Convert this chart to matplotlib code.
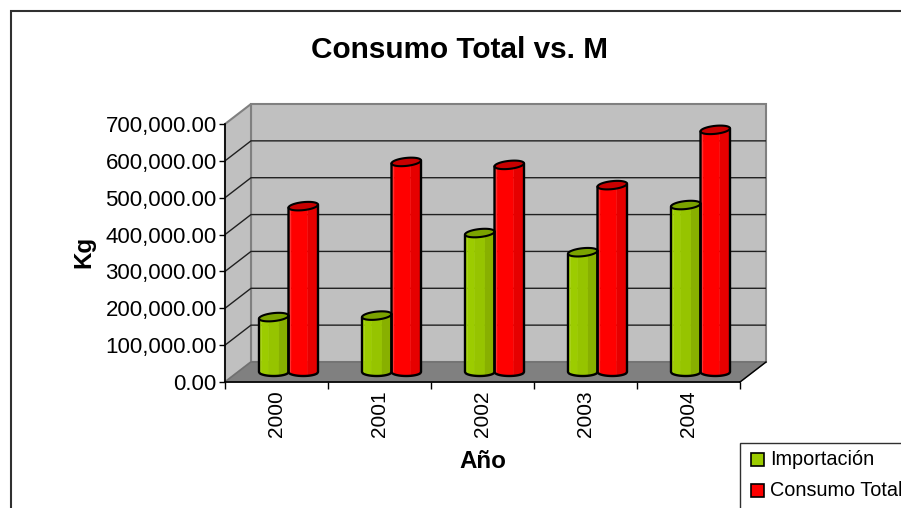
import numpy as np
import matplotlib
matplotlib.use('Agg')
import matplotlib.pyplot as plt
from matplotlib.patches import Polygon, Rectangle

plt.rcParams['font.family'] = ['Liberation Sans', 'DejaVu Sans']

years = ['2000', '2001', '2002', '2003', '2004']
importacion = [149000, 153000, 377000, 325000, 453000]
consumo_total = [450000, 570000, 562000, 507000, 657000]
y_ticks = [0, 100000, 200000, 300000, 400000, 500000, 600000, 700000]

W, H = 901, 508
# tamano del grafico en pixeles
left, right, bottom, top = 225, 766, 382, 104
px_x = 103.0               # pixeles por categoria
px_y = 258.0 / 700000      # pixeles por kg
depth_x = 26 / px_x
depth_y = 20 / px_y
bar_w = 29.5 / px_x
cap_h = 4.0 / px_y
cap_tilt = 1.5 / px_y

GREEN = [(0.08, '#a8d808'), (0.32, '#9ccc00'), (0.66, '#96c400'), (1.0, '#88b000')]
RED = [(0.07, '#ff3030'), (0.64, '#ff0000'), (0.95, '#e60000'), (1.0, '#f81010')]


def cylinder(ax, xc, base, value, shades, top_color):
    # cuerpo del cilindro por franjas verticales
    x0 = xc - bar_w / 2
    level = base + value
    start = 0.0
    for end, col in shades:
        u = np.linspace(start, end, 12)
        t = 2 * u - 1
        lower = base - cap_h * np.sqrt(1 - t ** 2)
        upper = level + cap_tilt * t
        ax.fill_between(x0 + u * bar_w, lower, upper, color=col, lw=0, zorder=4)
        start = end
    ang = np.linspace(0, 2 * np.pi, 60)
    xs = xc + bar_w / 2 * np.cos(ang)
    ys = level + cap_h * np.sin(ang) + cap_tilt * np.cos(ang)
    ax.add_patch(Polygon(np.column_stack([xs, ys]), closed=True, fc=top_color,
                         ec='black', lw=1.5, zorder=5))
    # contorno
    t = np.linspace(-1, 1, 40)
    ox = np.concatenate([[xc - bar_w / 2], xc + t * bar_w / 2, [xc + bar_w / 2]])
    oy = np.concatenate([[level - cap_tilt], base - cap_h * np.sqrt(1 - t ** 2), [level + cap_tilt]])
    ax.plot(ox, oy, color='black', lw=1.7, zorder=5, solid_capstyle='round')


fig = plt.figure(figsize=(W / 100, H / 100), dpi=100)
ax = fig.add_axes([left / W, 1 - bottom / H, (right - left) / W, (bottom - top) / H])
ax.set_xlim(0, (right - left) / px_x)
ax.set_ylim(0, (bottom - top) / px_y)
ax.patch.set_visible(False)

# paredes y piso
n = len(years)
vmax = y_ticks[-1]
wall = dict(fc='#c0c0c0', ec='#808080', lw=1.5, zorder=1)
ax.add_patch(Polygon([(depth_x, depth_y), (n + depth_x, depth_y), (n + depth_x, vmax + depth_y),
                      (depth_x, vmax + depth_y)], clip_on=False, **wall))
ax.add_patch(Polygon([(0, 0), (depth_x, depth_y), (depth_x, vmax + depth_y), (0, vmax)],
                     clip_on=False, **wall))
ax.add_patch(Polygon([(0, 0), (n, 0), (n + depth_x, depth_y), (depth_x, depth_y)],
                     fc='#808080', ec='#707070', lw=1, zorder=1, clip_on=False))
ax.plot([n, n + depth_x], [0, depth_y], color='black', lw=1, zorder=2, clip_on=False)

# lineas de division
for v in y_ticks[1:-1]:
    ax.plot([0, depth_x, n + depth_x], [v, v + depth_y, v + depth_y], color='#202020', lw=1, zorder=2)

for i in range(n):
    xc = i + 0.5 + depth_x / 2 - 1 / px_x
    base = depth_y / 2
    cylinder(ax, xc - bar_w / 2, base, importacion[i], GREEN, '#7ba300')
    cylinder(ax, xc + bar_w / 2, base, consumo_total[i], RED, '#c80000')

for s in ['top', 'right']:
    ax.spines[s].set_visible(False)
ax.spines['left'].set_bounds(0, vmax)
ax.spines['bottom'].set_bounds(0, n)
ax.spines['left'].set_linewidth(1.2)
ax.spines['bottom'].set_linewidth(1.2)
ax.spines['left'].set_zorder(3)
ax.spines['bottom'].set_zorder(3)

ax.set_yticks(y_ticks)
ax.set_yticklabels(['{:,.2f}'.format(v) for v in y_ticks], fontsize=16)
ax.tick_params(axis='y', length=4, width=1, pad=2)
ax.set_xticks(range(n + 1))
ax.set_xticklabels([])
ax.tick_params(axis='x', which='major', length=5, width=1)
ax.set_xticks([i + 0.5 for i in range(n)], years, minor=True, rotation=90, fontsize=15)
ax.tick_params(axis='x', which='minor', length=0, pad=6)

fig.text(459.5 / W, 1 - 50 / H, 'Consumo Total vs. M', fontsize=21.4, fontweight='bold',
         ha='center', va='center')
fig.text(84 / W, 1 - 252 / H, 'Kg', fontsize=17.4, fontweight='bold', rotation=90,
         ha='center', va='center')
fig.text(483 / W, 1 - 461 / H, 'Año', fontsize=17.4, fontweight='bold', ha='center', va='center')

# marco exterior, corta en el borde derecho e inferior
fig.add_artist(Rectangle((10.5 / W, -0.1), 1.2, 1 - 11 / H + 0.1, transform=fig.transFigure,
                         fc='none', ec='#303030', lw=1.5, zorder=0))

# leyenda
fig.add_artist(Rectangle((739.5 / W, -0.1), 0.5, 1 - 443.5 / H + 0.1, transform=fig.transFigure,
                         fc='white', ec='#303030', lw=1, zorder=6))
for ypx, lab, col in [(459, 'Importación', '#9ccc00'), (490.5, 'Consumo Total', '#ff0000')]:
    fig.add_artist(Rectangle((750.5 / W, 1 - (ypx + 6.5) / H), 13 / W, 13 / H, transform=fig.transFigure,
                             fc=col, ec='black', lw=1.2, zorder=7))
    fig.text(770 / W, 1 - (ypx + 0.5) / H, lab, fontsize=14.3, ha='left', va='center', zorder=7)

fig.savefig('out.png', dpi=100)
